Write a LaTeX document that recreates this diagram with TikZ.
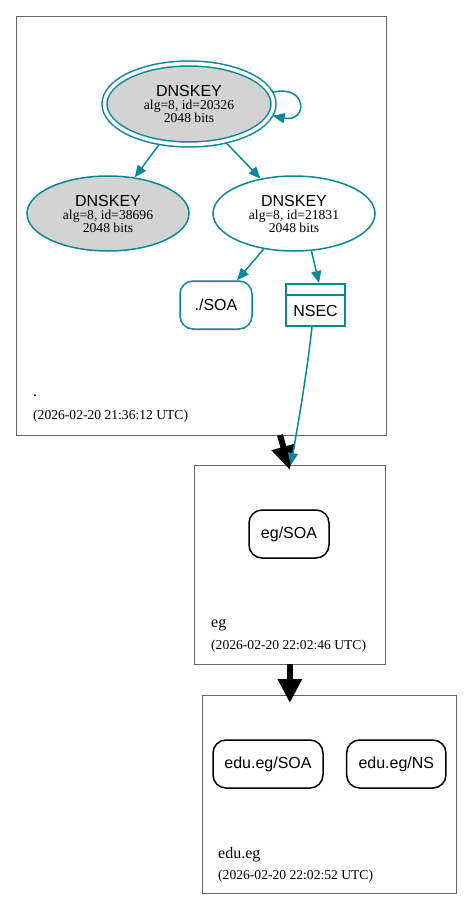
\documentclass[tikz,border=0pt]{standalone}
\usepackage{fontspec}
\setmainfont{Liberation Serif}
\setsansfont{Liberation Sans}
\usetikzlibrary{arrows.meta,shapes.geometric}
\definecolor{sec}{HTML}{0A879A}
\definecolor{zoneline}{HTML}{666666}
\definecolor{keyfill}{HTML}{D3D3D3}
\begin{document}
\begin{tikzpicture}[x=1pt,y=-1pt,
  zonebox/.style={rectangle, draw=zoneline, line width=0.9pt, inner sep=0pt, outer sep=0pt},
  key/.style={ellipse, draw=sec, line width=1.5pt, minimum width=162pt, minimum height=75pt,
    inner sep=0pt, align=center, font=\fontsize{13.6}{13}\selectfont},
  rr/.style={rectangle, rounded corners=13pt, draw, line width=1.5pt, inner sep=0pt,
    minimum height=48pt, font=\sffamily\fontsize{16}{16}\selectfont},
  secedge/.style={draw=sec, line width=1.5pt, -{Triangle[length=12pt,width=10pt]}},
  deleg/.style={draw=black, line width=6pt, -{Triangle[length=24pt,width=23pt]}},
  zonename/.style={anchor=base west, inner sep=0pt, font=\fontsize{16}{16}\selectfont},
  zonedate/.style={anchor=base west, inner sep=0pt, font=\fontsize{13.6}{14}\selectfont}
]
\useasboundingbox (0,0) rectangle (472,910);

% zone boxes
\node[zonebox, minimum width=370pt, minimum height=419pt] (box1) at (201,225.5) {};
\node[zonebox, minimum width=191.7pt, minimum height=199pt] (box2) at (289.85,564.5) {};
\node[zonebox, minimum width=253.3pt, minimum height=198pt] (box3) at (329.35,794) {};

% root zone
\node[key, fill=keyfill, double=white, double distance=3.5pt, minimum width=169pt,
      minimum height=81pt, outer sep=2.5pt] (ksk) at (189,104)
  {{\sffamily\fontsize{16}{13}\selectfont DNSKEY}\\alg=8, id=20326\\2048 bits};
\node[key, fill=keyfill] (zsk1) at (108,213.5)
  {{\sffamily\fontsize{16}{13}\selectfont DNSKEY}\\alg=8, id=38696\\2048 bits};
\node[key] (zsk2) at (294,213.5)
  {{\sffamily\fontsize{16}{13}\selectfont DNSKEY}\\alg=8, id=21831\\2048 bits};
\node[rr, draw=sec, minimum width=72pt] (rootsoa) at (216,305) {./SOA};
\node[rectangle, draw=sec, line width=2pt, minimum width=59pt, minimum height=42pt,
      inner sep=0pt] (nsec) at (315.5,305) {};
\draw[sec, line width=2pt] ([yshift=-12pt]nsec.north west) -- ([yshift=-12pt]nsec.north east);
\node[inner sep=0pt, font=\sffamily\fontsize{16}{16}\selectfont] (nseclabel) at (315.5,310.5) {NSEC};

\node[zonename] (rootname) at (33,396) {.};
\node[zonedate] (rootdate) at (33,419) {(2026-02-20 21:36:12 UTC)};

\draw[secedge] (ksk.8) .. controls (308,84) and (308,123) .. (ksk.-8);
\draw[secedge] (ksk) -- (zsk1);
\draw[secedge] (ksk) -- (zsk2);
\draw[secedge] (zsk2) -- (rootsoa);
\draw[secedge] (zsk2.-65) -- ([xshift=3.5pt]nsec.north);

% delegation
\draw[deleg] ([xshift=79pt]box1.south) -- ([xshift=0pt,yshift=-5pt]box2.north);
\draw[secedge] ([xshift=-3.5pt]nsec.south) .. controls (306,380) and (297,430) .. ([xshift=1pt]box2.north);

% eg zone
\node[rr, minimum width=80pt] (egsoa) at (289,534) {eg/SOA};
\node[zonename] (egname) at (211,627) {eg};
\node[zonedate] (egdate) at (211,649) {(2026-02-20 22:02:46 UTC)};

\draw[deleg] (box2.south) -- ([yshift=-8pt]box3.north -| box2.south);

% edu.eg zone
\node[rr, minimum width=110pt] (edusoa) at (268,764) {edu.eg/SOA};
\node[rr, minimum width=99.3pt] (eduns) at (396.3,764) {edu.eg/NS};
\node[zonename] (eduname) at (218,858) {edu.eg};
\node[zonedate] (edudate) at (218,879) {(2026-02-20 22:02:52 UTC)};
\end{tikzpicture}
\end{document}
